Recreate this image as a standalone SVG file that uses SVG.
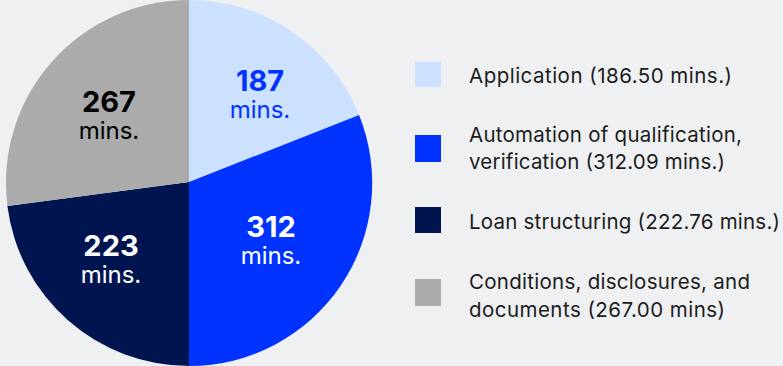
<svg xmlns="http://www.w3.org/2000/svg" width="783" height="366" viewBox="0 0 783 366">
<style>
.num{font-family:Inter,"Liberation Sans",sans-serif;font-weight:700;font-size:29px;text-anchor:middle}
.unit{font-family:Inter,"Liberation Sans",sans-serif;font-weight:400;font-size:24px;text-anchor:middle}
.leg{font-family:Inter,"Liberation Sans",sans-serif;font-size:20.5px;fill:#1c1c1c}
</style>
<rect width="783" height="366" fill="#eff0f2"/>
<g id="pie">
<g id="slice-application"><path d="M189,182 L189,0 A183,183 0 0 1 359.1,115 Z" fill="#cce0ff"/>
<text class="num" x="260" y="91" fill="#0033ff">187</text><text class="unit" x="260" y="118" fill="#0033ff">mins.</text></g>
<g id="slice-automation"><path d="M189,182 L359.1,115 A183,183 0 0 1 189,366 Z" fill="#0033ff"/>
<text class="num" x="271" y="237" fill="#ffffff">312</text><text class="unit" x="271" y="264" fill="#ffffff">mins.</text></g>
<g id="slice-loan"><path d="M189,182 L189,366 A183,183 0 0 1 7.4,206 Z" fill="#001450"/>
<text class="num" x="111" y="256" fill="#ffffff">223</text><text class="unit" x="111" y="283" fill="#ffffff">mins.</text></g>
<g id="slice-conditions"><path d="M189,182 L7.4,206 A183,183 0 0 1 189,0 Z" fill="#ababab"/>
<text class="num" x="109" y="112" fill="#000000">267</text><text class="unit" x="109" y="139" fill="#000000">mins.</text></g>
</g>
<g id="legend">
<g id="leg-application"><rect x="415" y="62" width="26" height="25" fill="#cce0ff"/><text class="leg" x="469" y="83" textLength="263" lengthAdjust="spacing">Application (186.50 mins.)</text></g>
<g id="leg-automation"><rect x="415" y="135" width="26" height="27" fill="#0033ff"/><text class="leg" x="469" y="142" textLength="273" lengthAdjust="spacing">Automation of qualification,</text><text class="leg" x="469" y="169" textLength="256" lengthAdjust="spacing">verification (312.09 mins.)</text></g>
<g id="leg-loan"><rect x="415" y="207" width="26" height="26" fill="#001450"/><text class="leg" x="469" y="229" textLength="311" lengthAdjust="spacing">Loan structuring (222.76 mins.)</text></g>
<g id="leg-conditions"><rect x="415" y="279" width="26" height="27" fill="#ababab"/><text class="leg" x="469" y="289" textLength="281" lengthAdjust="spacing">Conditions, disclosures, and</text><text class="leg" x="469" y="317" textLength="256" lengthAdjust="spacing">documents (267.00 mins)</text></g>
</g>
<g id="connectors"/>
</svg>
